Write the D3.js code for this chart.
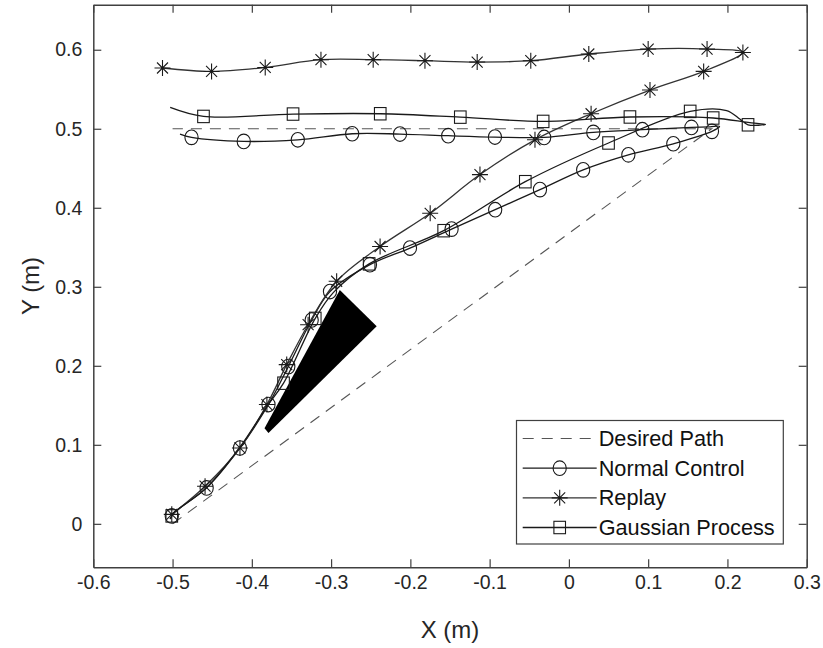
<!DOCTYPE html>
<html>
<head>
<meta charset="utf-8">
<script src="https://cdnjs.cloudflare.com/ajax/libs/d3/7.8.5/d3.min.js"></script>
<style>
body { margin: 0; background: #fff; }
svg text { font-family: "Liberation Sans", Arial, sans-serif; }
</style>
</head>
<body>
<script>

// ===========================================================================
// Data (metres)

var xTicks = [-0.6, -0.5, -0.4, -0.3, -0.2, -0.1, 0, 0.1, 0.2, 0.3];
var yTicks = [0, 0.1, 0.2, 0.3, 0.4, 0.5, 0.6];

var seriesNames = ['Desired Path', 'Normal Control', 'Replay', 'Gaussian Process'];

// Desired path: diagonal out, straight line back
var desiredPath = [[-0.5, 0], [0.18, 0.5], [-0.5, 0.5]];

// Normal control trajectory and its markers
var normalPath = [
    [-0.503, 0.006], [-0.498, 0.014], [-0.457, 0.0455], [-0.415, 0.096], [-0.379, 0.151],
    [-0.354, 0.199], [-0.3245, 0.258], [-0.3014, 0.294], [-0.251, 0.328], [-0.2005, 0.349],
    [-0.148, 0.373], [-0.093, 0.3976], [-0.0365, 0.423], [0.018, 0.448], [0.075, 0.467],
    [0.1317, 0.481], [0.1805, 0.4967], [0.19, 0.503], [0.178, 0.5025], [0.1546, 0.5017],
    [0.0927, 0.4988], [0.0308, 0.4954], [-0.0312, 0.489], [-0.0933, 0.4895], [-0.1523, 0.4912],
    [-0.2131, 0.4933], [-0.2734, 0.4937], [-0.342, 0.486], [-0.4102, 0.484], [-0.4761, 0.4891],
    [-0.4906, 0.4933]
];
var normalMarkers = [
    [-0.501, 0.01], [-0.457, 0.0455], [-0.415, 0.096], [-0.379, 0.151], [-0.354, 0.199],
    [-0.3245, 0.258], [-0.3014, 0.294], [-0.251, 0.328], [-0.2005, 0.349], [-0.148, 0.373],
    [-0.093, 0.3976], [-0.0365, 0.423], [0.018, 0.448], [0.075, 0.467], [0.1317, 0.481],
    [0.1805, 0.4967], [0.1546, 0.5017], [0.0927, 0.4988], [0.0308, 0.4954], [-0.0312, 0.489],
    [-0.0933, 0.4895], [-0.1523, 0.4912], [-0.2131, 0.4933], [-0.2734, 0.4937], [-0.342, 0.486],
    [-0.4102, 0.484], [-0.4761, 0.4891]
];

// Replay trajectory (markers sit on every point)
var replayPath = [
    [-0.501, 0.012], [-0.459, 0.0476], [-0.415, 0.096], [-0.381, 0.151], [-0.356, 0.2015],
    [-0.329, 0.252], [-0.293, 0.307], [-0.2382, 0.351], [-0.175, 0.393], [-0.1122, 0.442],
    [-0.0428, 0.486], [0.028, 0.519], [0.1023, 0.549], [0.170, 0.5726], [0.2195, 0.5966],
    [0.1743, 0.6009], [0.100, 0.6009], [0.0251, 0.5946], [-0.0481, 0.5861], [-0.1157, 0.5844],
    [-0.1816, 0.5861], [-0.2469, 0.5874], [-0.3128, 0.5874], [-0.3831, 0.5776], [-0.4508, 0.5725],
    [-0.5127, 0.5769]
];

// Gaussian process trajectory and its markers
var gpPath = [
    [-0.503, 0.006], [-0.499, 0.013], [-0.457, 0.046], [-0.415, 0.097], [-0.38, 0.15],
    [-0.36, 0.178], [-0.32, 0.26], [-0.297, 0.293], [-0.252, 0.329], [-0.158, 0.371],
    [-0.055, 0.433], [0.05, 0.482], [0.153, 0.522], [0.199, 0.523], [0.216, 0.512],
    [0.226, 0.505], [0.248, 0.5055], [0.226, 0.508], [0.182, 0.5136], [0.077, 0.5149],
    [-0.0325, 0.5093], [-0.137, 0.5147], [-0.238, 0.519], [-0.348, 0.5186], [-0.461, 0.5156],
    [-0.503, 0.527]
];
var gpMarkers = [
    [-0.501, 0.01], [-0.36, 0.178], [-0.32, 0.26], [-0.252, 0.329], [-0.158, 0.371],
    [-0.055, 0.433], [0.05, 0.482], [0.153, 0.522], [0.226, 0.505], [0.182, 0.5136],
    [0.077, 0.5149], [-0.0325, 0.5093], [-0.137, 0.5147], [-0.238, 0.519], [-0.348, 0.5186],
    [-0.461, 0.5156]
];

// Black obstacle wedge
var obstacle = [[-0.289, 0.296], [-0.2425, 0.25], [-0.379, 0.115], [-0.384, 0.121]];


// ===========================================================================
// Figure

var width = 823;
var height = 648;
var ink = '#1a1a1a';
var axisInk = '#404040';

var svg = d3.select('body').append('svg')
    .attr('width', width)
    .attr('height', height);

var x = d3.scaleLinear().domain([-0.6, 0.3]).range([93.3, 806.7]);
var y = d3.scaleLinear().domain([-0.055, 0.657]).range([567.3, 4.7]);

var line = d3.line()
    .x(function (d) { return x(d[0]); })
    .y(function (d) { return y(d[1]); })
    .curve(d3.curveCatmullRom.alpha(0.5));

var straight = d3.line()
    .x(function (d) { return x(d[0]); })
    .y(function (d) { return y(d[1]); });

// tick label text, plain hyphen for negatives
function tickText(d) {
    return String(+d.toFixed(1));
}

// Marker drawers: (selection, px, py)
function drawCircle(g, px, py) {
    g.append('ellipse')
        .attr('cx', px).attr('cy', py)
        .attr('rx', 6.6).attr('ry', 7.3)
        .attr('fill', 'none').attr('stroke', ink).attr('stroke-width', 1.1);
}

function drawSquare(g, px, py) {
    g.append('rect')
        .attr('x', px - 5.8).attr('y', py - 6.2)
        .attr('width', 11.6).attr('height', 12.4)
        .attr('fill', 'none').attr('stroke', ink).attr('stroke-width', 1.1);
}

function drawStar(g, px, py) {
    var r = 8, a = 5.5;
    g.append('path')
        .attr('d', 'M' + px + ',' + (py - r) + 'V' + (py + r) +
            'M' + (px - r) + ',' + py + 'H' + (px + r) +
            'M' + (px - a) + ',' + (py - a) + 'L' + (px + a) + ',' + (py + a) +
            'M' + (px - a) + ',' + (py + a) + 'L' + (px + a) + ',' + (py - a))
        .attr('fill', 'none').attr('stroke', ink).attr('stroke-width', 1.1);
}

var plot = svg.append('g').attr('class', 'plot');

// Obstacle
plot.append('path')
    .attr('d', straight(obstacle) + 'Z')
    .attr('fill', '#000');

// Desired path
plot.append('path')
    .attr('d', straight(desiredPath))
    .attr('fill', 'none')
    .attr('stroke', '#555')
    .attr('stroke-width', 1.1)
    .attr('stroke-dasharray', '11,8');

// Trajectories
var series = [
    { path: normalPath, markers: normalMarkers, draw: drawCircle, color: ink },
    { path: replayPath, markers: replayPath, draw: drawStar, color: '#333' },
    { path: gpPath, markers: gpMarkers, draw: drawSquare, color: ink }
];

series.forEach(function (s) {
    plot.append('path')
        .attr('d', line(s.path))
        .attr('fill', 'none')
        .attr('stroke', s.color)
        .attr('stroke-width', 1.3);
    var mg = plot.append('g');
    s.markers.forEach(function (d) {
        s.draw(mg, x(d[0]), y(d[1]));
    });
});


// Axes: MATLAB style box with inward ticks on all four sides

var axBottom = svg.append('g')
    .attr('transform', 'translate(0,' + y.range()[0] + ')')
    .call(d3.axisBottom(x).tickValues(xTicks).tickSize(-8).tickSizeOuter(0).tickPadding(8)
        .tickFormat(tickText));

var axLeft = svg.append('g')
    .attr('transform', 'translate(' + x.range()[0] + ',0)')
    .call(d3.axisLeft(y).tickValues(yTicks).tickSize(-8).tickSizeOuter(0).tickPadding(11)
        .tickFormat(tickText));

var axTop = svg.append('g')
    .attr('transform', 'translate(0,' + y.range()[1] + ')')
    .call(d3.axisTop(x).tickValues(xTicks).tickSize(-8).tickSizeOuter(0).tickFormat(''));

var axRight = svg.append('g')
    .attr('transform', 'translate(' + x.range()[1] + ',0)')
    .call(d3.axisRight(y).tickValues(yTicks).tickSize(-8).tickSizeOuter(0).tickFormat(''));

[axBottom, axLeft, axTop, axRight].forEach(function (g) {
    g.selectAll('path.domain').attr('stroke', axisInk).attr('stroke-width', 1.5);
    g.selectAll('.tick line').attr('stroke', axisInk).attr('stroke-width', 1.2);
    g.selectAll('.tick text')
        .attr('fill', '#262626')
        .style('font-size', '19.5px')
        .style('font-family', '"Liberation Sans", Arial, sans-serif');
});

// Axis labels
svg.append('text')
    .attr('x', (x.range()[0] + x.range()[1]) / 2)
    .attr('y', 638)
    .attr('text-anchor', 'middle')
    .attr('fill', '#262626')
    .style('font-size', '24px')
    .text('X (m)');

svg.append('text')
    .attr('transform', 'translate(39,' + ((y.range()[0] + y.range()[1]) / 2) + ') rotate(-90)')
    .attr('text-anchor', 'middle')
    .attr('fill', '#262626')
    .style('font-size', '24px')
    .text('Y (m)');


// Legend

var legend = svg.append('g').attr('class', 'legend');
legend.append('rect')
    .attr('x', 516.5).attr('y', 420.5)
    .attr('width', 266.8).attr('height', 123.5)
    .attr('fill', '#fff').attr('stroke', axisInk).attr('stroke-width', 1.2);

var rowY = d3.scalePoint().domain(seriesNames).range([438.5, 527.5]);
var sampleX0 = 522.7, sampleX1 = 596.7;

seriesNames.forEach(function (name, i) {
    var ry = rowY(name);
    var seg = legend.append('line')
        .attr('x1', sampleX0).attr('x2', sampleX1)
        .attr('y1', ry).attr('y2', ry)
        .attr('stroke', i === 0 ? '#555' : (i === 2 ? '#333' : ink))
        .attr('stroke-width', i === 0 ? 1.1 : 1.3);
    if (i === 0) {
        seg.attr('stroke-dasharray', '11,8');
    } else {
        series[i - 1].draw(legend, (sampleX0 + sampleX1) / 2, ry);
    }
    legend.append('text')
        .attr('x', sampleX1 + 2)
        .attr('y', ry)
        .attr('dy', '0.35em')
        .attr('fill', '#111')
        .style('font-size', '21.7px')
        .text(name);
});

</script>
</body>
</html>
